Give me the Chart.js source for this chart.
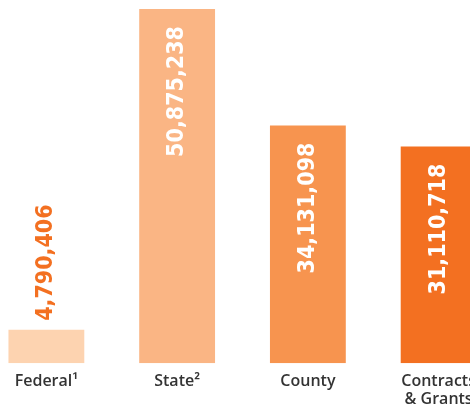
<!DOCTYPE html>
<html>
<head>
<meta charset="utf-8">
<script src="https://cdn.jsdelivr.net/npm/chart.js@4"></script>
<style>
  html, body { margin: 0; padding: 0; background: #fff; overflow: hidden; }
  body { width: 470px; height: 408px; position: relative; }
  #wrap { position: absolute; left: -19px; top: 0; width: 523px; height: 418px; }
</style>
</head>
<body>
<div id="wrap"><canvas id="funding-chart"></canvas></div>
<script>
  // funding sources
  const categories = [["Federal\u00B9"], ["State\u00B2"], ["County"], ["Contracts", "& Grants"]];
  const amounts = [4790406, 50875238, 34131098, 31110718];
  const barColors = ["#FDD3B0", "#FAB584", "#F7944F", "#F37021"];

  // numbers written sideways on / above each bar
  const valueLabels = {
    id: "valueLabels",
    afterDatasetsDraw(chart) {
      const ctx = chart.ctx;
      const bars = chart.getDatasetMeta(0).data;
      ctx.save();
      ctx.font = "bold 23px 'DejaVu Sans Condensed', 'DejaVu Sans', sans-serif";
      ctx.textBaseline = "middle";
      bars.forEach((bar, i) => {
        const txt = amounts[i].toLocaleString("en-US");
        const w = ctx.measureText(txt).width;
        const h = bar.base - bar.y;
        ctx.save();
        if (h > w + 30) {
          ctx.translate(bar.x, bar.y + 17);
          ctx.rotate(-Math.PI / 2);
          ctx.textAlign = "right";
          ctx.fillStyle = "#ffffff";
        } else {
          ctx.translate(bar.x, bar.y - 9);
          ctx.rotate(-Math.PI / 2);
          ctx.textAlign = "left";
          ctx.fillStyle = "#F37021";
        }
        ctx.fillText(txt, 0, 0);
        ctx.restore();
      });
      ctx.restore();
    },
  };

  new Chart(document.getElementById("funding-chart"), {
    type: "bar",
    data: {
      labels: categories,
      datasets: [
        {
          data: amounts,
          backgroundColor: barColors,
          borderWidth: 0,
          barPercentage: 0.58,
          categoryPercentage: 1,
        },
      ],
    },
    options: {
      responsive: true,
      maintainAspectRatio: false,
      animation: false,
      layout: { padding: { top: 9, left: 0, right: 0, bottom: 0 } },
      plugins: {
        legend: { display: false },
        tooltip: { enabled: false },
      },
      scales: {
        x: {
          grid: { display: false, drawTicks: false },
          border: { display: false },
          ticks: {
            color: "#333333",
            padding: 9,
            maxRotation: 0,
            autoSkip: false,
            font: { family: "'Open Sans', sans-serif", size: 16, weight: "600", lineHeight: 1.15 },
          },
        },
        y: {
          display: false,
          min: 0,
          max: 50875238,
        },
      },
    },
    plugins: [valueLabels],
  });
</script>
</body>
</html>
